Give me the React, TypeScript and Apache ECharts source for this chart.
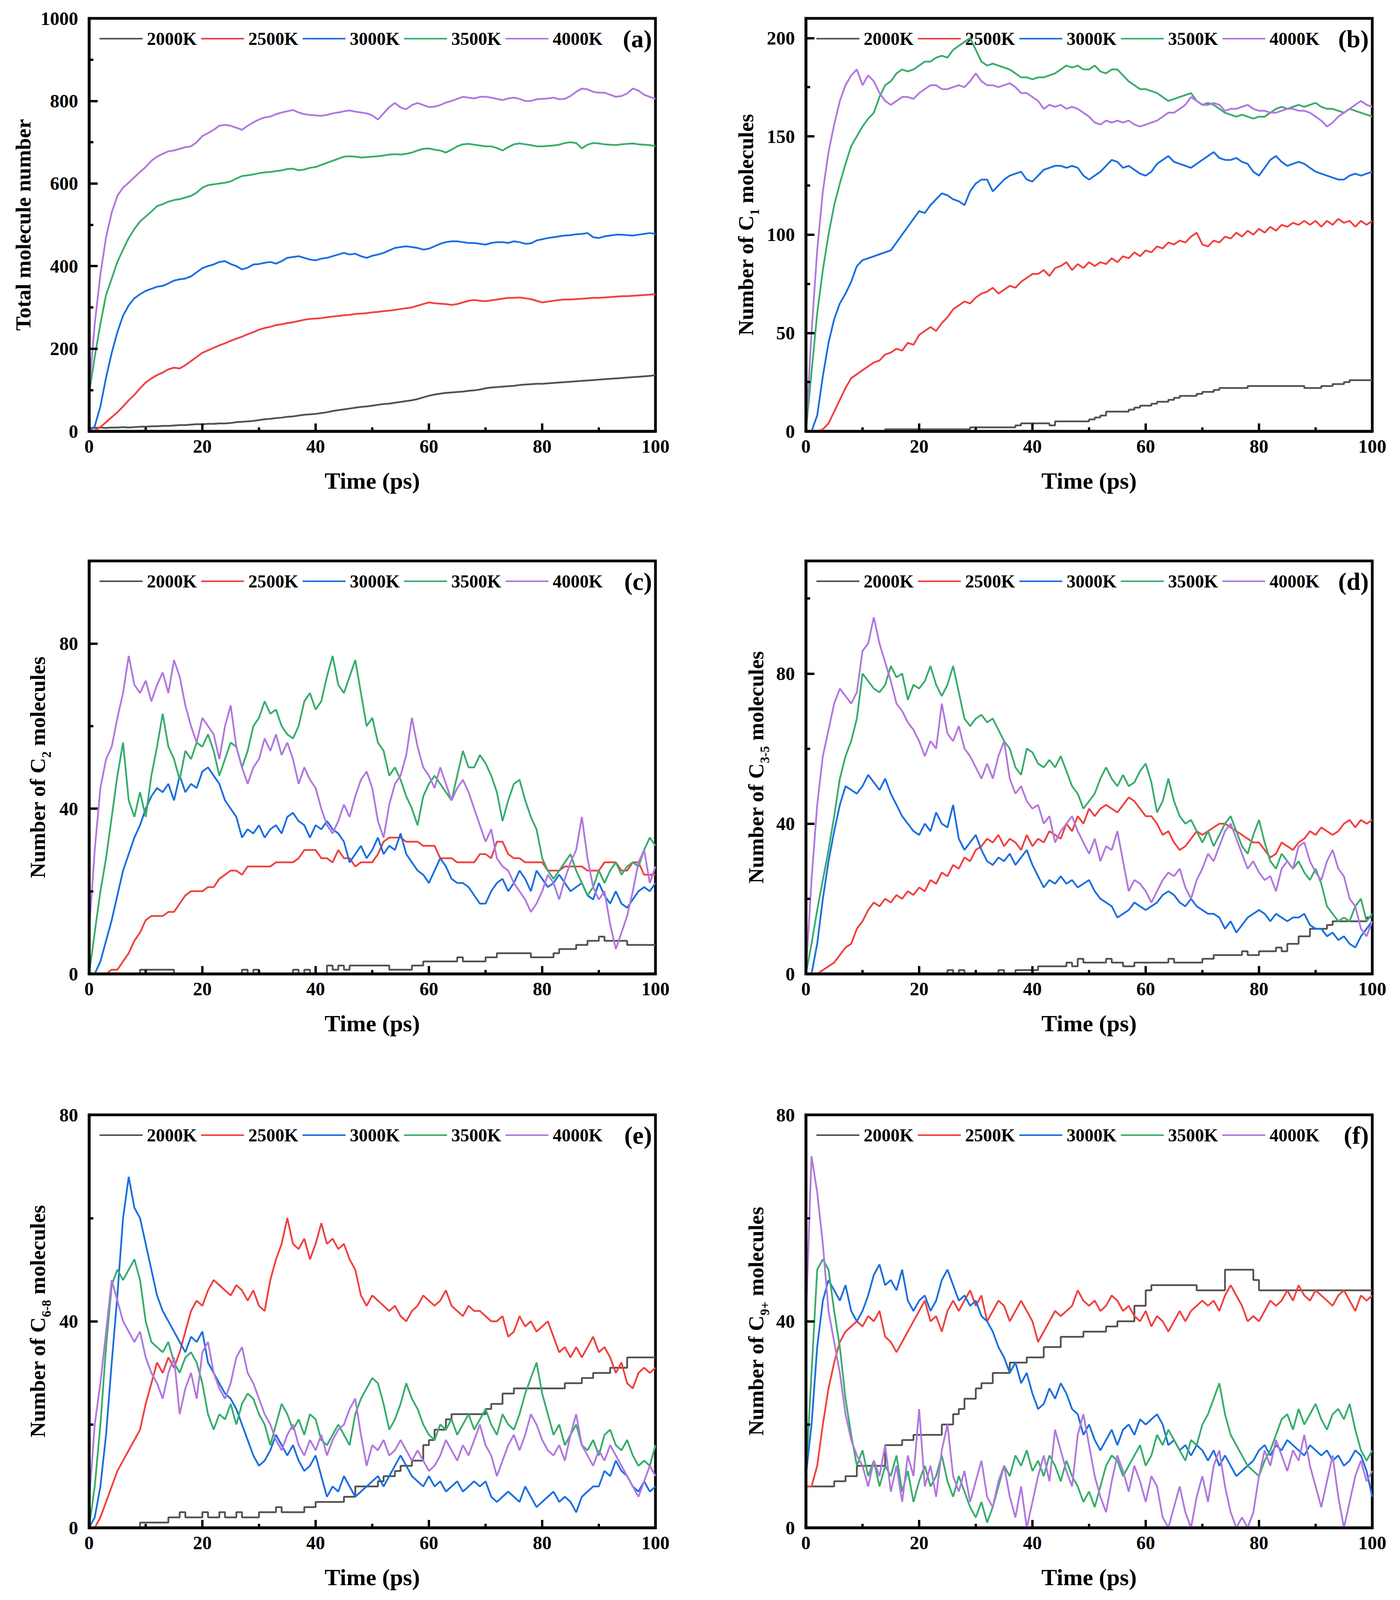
import React, { useEffect, useRef } from "react";
import * as echarts from "echarts";

// sampling grid: one point per ps
const TIME_PS = Array.from({ length: 101 }, (_, i) => i);
const TEMPS = ["2000K", "2500K", "3000K", "3500K", "4000K"];
const COLORS = ["#515151", "#F14040", "#1A6FDF", "#37AD6B", "#B177DE"];
const X_TICKS = { min: 0, max: 100, interval: 20 };

// (a) total molecule number
const A_2000 = [
  8, 8, 9, 8, 9, 9, 10, 9, 10, 11, 11,
  12, 12, 13, 13, 14, 15, 15, 16, 17, 17,
  18, 18, 19, 19, 20, 22, 23, 24, 25, 27,
  29, 30, 32, 33, 35, 36, 38, 40, 41, 42,
  44, 46, 49, 51, 53, 55, 57, 59, 60, 62,
  64, 66, 67, 69, 71, 73, 75, 78, 82, 86,
  89, 91, 93, 94, 95, 96, 98, 99, 101, 104,
  106, 107, 108, 109, 110, 112, 113, 114, 115, 115,
  116, 117, 118, 119, 120, 121, 122, 123, 124, 125,
  126, 127, 128, 129, 130, 131, 132, 133, 134, 136,
];
const A_2500 = [
  0, 2, 10, 22, 34, 46, 60, 75, 88, 104, 118,
  128, 136, 142, 150, 154, 152, 160, 170, 180, 190,
  196, 202, 208, 213, 219, 224, 229, 235, 240, 246,
  250, 253, 257, 259, 262, 264, 267, 270, 272, 273,
  274, 276, 278, 279, 281, 282, 284, 285, 286, 288,
  289, 291, 292, 294, 296, 298, 300, 304, 308, 312,
  310, 309, 308, 306, 308, 312, 316, 318, 316, 315,
  317, 319, 321, 323, 323, 324, 322, 320, 316, 312,
  314, 316, 318, 319, 319, 320, 321, 322, 323, 323,
  324, 325, 326, 327, 327, 328, 329, 330, 331, 332,
];
const A_3000 = [
  0, 12, 60, 130, 190, 240, 280, 305, 322, 332, 340,
  345, 350, 352, 358, 365, 368, 370, 375, 385, 395,
  400, 404, 410, 412, 405, 400, 392, 396, 404, 405,
  408, 410, 406, 412, 420, 422, 424, 420, 416, 414,
  418, 420, 424, 428, 432, 428, 430, 424, 420, 425,
  428, 432, 438, 444, 446, 448, 446, 444, 440, 442,
  448, 454, 458, 460, 460, 458, 456, 456, 454, 452,
  456, 458, 458, 456, 460, 458, 454, 455, 462, 465,
  468, 470, 472, 474, 475, 477, 478, 480, 470, 468,
  472, 474, 476, 476, 475, 474, 476, 478, 480, 478,
];
const A_3500 = [
  90, 180, 260, 330, 370, 410, 440, 468, 490, 508, 520,
  532, 545, 550, 556, 560, 562, 566, 570, 578, 590,
  596, 598, 600, 602, 605, 612, 618, 620, 622, 625,
  627, 628, 630, 632, 635, 636, 632, 634, 638, 640,
  645, 650, 655, 660, 665, 666, 665, 663, 664, 665,
  666, 668, 670, 671, 670, 672, 675, 680, 684, 685,
  682, 680, 675, 682, 690, 695, 696, 694, 692, 690,
  690, 686, 680, 688, 695, 697, 695, 693, 690, 690,
  691, 692, 694, 698, 700, 698, 685, 694, 698, 697,
  695, 694, 693, 695, 696, 697, 695, 694, 693, 690,
];
const A_4000 = [
  100, 260, 380, 470, 530, 570, 590, 602, 615, 628, 640,
  655, 665, 672, 678, 680, 684, 688, 690, 700, 715,
  722, 730, 740, 742, 740, 735, 730, 740, 748, 755,
  760, 762, 768, 772, 775, 778, 772, 768, 766, 765,
  764, 766, 770, 772, 775, 777, 774, 772, 770, 765,
  755, 770, 785, 795, 784, 780, 790, 795, 790, 785,
  786, 790, 796, 800, 805, 810, 808, 806, 810, 810,
  808, 805, 802, 806, 808, 805, 800, 800, 804, 805,
  806, 808, 804, 805, 812, 822, 830, 828, 822, 820,
  820, 815, 810, 812, 818, 830, 825, 815, 810, 805,
];

// (b) C1 molecules
const B_2000 = [
  0, 0, 0, 0, 0, 0, 0, 0, 0, 0, 0,
  0, 0, 0, 0, 1, 1, 1, 1, 1, 1,
  1, 1, 1, 1, 1, 1, 1, 1, 1, 2,
  2, 2, 2, 2, 2, 2, 2, 3, 4, 4,
  4, 4, 4, 3, 5, 5, 5, 5, 5, 5,
  6, 7, 8, 10, 10, 10, 10, 11, 12, 13,
  13, 14, 15, 15, 16, 17, 18, 18, 18, 19,
  20, 20, 21, 22, 22, 22, 22, 22, 23, 23,
  23, 23, 23, 23, 23, 23, 23, 23, 22, 22,
  22, 23, 23, 24, 24, 25, 26, 26, 26, 26,
];
const B_2500 = [
  0, 0, 0, 1, 4, 10, 16, 22, 27, 29, 31,
  33, 35, 36, 39, 40, 42, 41, 45, 44, 49,
  51, 53, 51, 55, 58, 62, 64, 66, 65, 68,
  70, 71, 73, 70, 72, 74, 73, 76, 78, 80,
  80, 82, 79, 83, 84, 86, 82, 85, 83, 86,
  84, 86, 85, 88, 86, 89, 88, 91, 89, 92,
  91, 94, 93, 96, 95, 97, 96, 99, 101, 95,
  94, 97, 96, 99, 98, 101, 99, 102, 100, 103,
  101, 104, 102, 105, 104, 106, 105, 107, 105, 107,
  104, 107, 105, 108, 106, 107, 104, 107, 105, 107,
];
const B_3000 = [
  0, 0, 8, 28, 45, 57, 65, 70, 76, 84, 87,
  88, 89, 90, 91, 92, 96, 100, 104, 108, 112,
  111, 115, 118, 121, 120, 118, 117, 115, 122, 126,
  128, 128, 122, 125, 128, 130, 131, 132, 128, 127,
  130, 133, 134, 135, 135, 134, 135, 134, 130, 128,
  130, 132, 135, 138, 137, 134, 135, 133, 131, 130,
  132, 136, 138, 140, 137, 136, 135, 134, 136, 138,
  140, 142, 139, 138, 138, 139, 137, 136, 132, 130,
  134, 138, 140, 137, 135, 136, 137, 136, 134, 132,
  131, 130, 129, 128, 128, 130, 131, 130, 131, 132,
];
const B_3500 = [
  0, 30, 60, 82, 100, 115, 126, 136, 145, 150, 155,
  159, 162, 170, 176, 178, 182, 184, 183, 184, 186,
  188, 188, 190, 191, 190, 194, 196, 198, 200, 194,
  188, 186, 187, 186, 185, 184, 182, 180, 180, 179,
  180, 180, 181, 182, 184, 186, 185, 186, 184, 184,
  186, 183, 182, 184, 184, 181, 178, 176, 174, 174,
  173, 172, 170, 168, 169, 170, 171, 172, 168, 166,
  167, 166, 164, 162, 161, 160, 161, 160, 159, 160,
  160, 162, 164, 165, 164, 165, 166, 165, 166, 167,
  165, 164, 164, 163, 162, 164, 163, 162, 161, 160,
];
const B_4000 = [
  0, 50, 92, 122, 142, 156, 168, 176, 181, 184, 176,
  181, 178, 172, 168, 166, 168, 170, 170, 169, 172,
  174, 176, 176, 174, 174, 175, 176, 175, 178, 182,
  178, 176, 176, 175, 176, 177, 175, 172, 172, 170,
  168, 164, 166, 165, 166, 164, 165, 164, 162, 160,
  157, 156, 158, 157, 158, 157, 158, 156, 155, 156,
  157, 158, 160, 162, 162, 164, 166, 170, 168, 166,
  166, 167, 166, 163, 164, 164, 165, 166, 164, 163,
  163, 162, 162, 163, 164, 164, 163, 163, 162, 160,
  158, 155, 157, 160, 162, 164, 166, 168, 166, 165,
];

// (c) C2 molecules
const C_2000 = [
  0, 0, 0, 0, 0, 0, 0, 0, 0, 0, 1,
  1, 1, 1, 1, 1, 0, 0, 0, 0, 0,
  0, 0, 0, 0, 0, 0, 0, 1, 0, 1,
  0, 0, 0, 0, 0, 0, 1, 0, 1, 0,
  0, 0, 2, 1, 2, 1, 2, 2, 2, 2,
  2, 2, 2, 1, 1, 1, 1, 2, 2, 3,
  3, 3, 3, 3, 3, 4, 3, 3, 3, 3,
  4, 4, 5, 5, 5, 5, 5, 5, 4, 4,
  4, 4, 5, 6, 6, 6, 7, 7, 8, 8,
  9, 8, 8, 8, 8, 7, 7, 7, 7, 7,
];
const C_2500 = [
  0, 0, 0, 0, 1, 1, 3, 5, 8, 10, 13,
  14, 14, 14, 15, 15, 17, 19, 20, 20, 20,
  21, 21, 23, 24, 25, 25, 24, 26, 26, 26,
  26, 26, 27, 27, 27, 27, 28, 30, 30, 30,
  28, 28, 27, 30, 28, 28, 26, 27, 27, 27,
  29, 32, 33, 33, 33, 32, 32, 32, 31, 31,
  31, 28, 28, 28, 27, 27, 27, 27, 29, 29,
  28, 32, 32, 29, 28, 28, 27, 27, 27, 27,
  25, 25, 25, 26, 26, 26, 26, 25, 25, 25,
  27, 27, 27, 25, 25, 27, 27, 24, 24, 24,
];
const C_3000 = [
  0, 0, 3, 8, 13, 19, 25, 29, 33, 36, 40,
  43, 45, 44, 46, 42, 48, 44, 46, 45, 49,
  50, 48, 46, 42, 40, 38, 33, 35, 34, 36,
  33, 35, 36, 34, 38, 39, 37, 36, 33, 36,
  35, 37, 35, 34, 32, 27, 29, 31, 28, 30,
  33, 29, 31, 30, 34, 29, 27, 25, 24, 22,
  25, 28, 26, 23, 22, 22, 21, 19, 17, 17,
  20, 22, 23, 20, 22, 25, 23, 20, 25, 23,
  21, 22, 24, 22, 20, 21, 22, 19, 18, 22,
  19, 17, 20, 17, 16, 18, 20, 21, 20, 22,
];
const C_3500 = [
  0, 10, 20, 28, 38, 48, 56, 42, 38, 44, 38,
  48, 55, 63, 55, 52, 47, 54, 52, 56, 55,
  58, 54, 48, 52, 56, 55, 50, 54, 60, 62,
  66, 63, 64, 60, 58, 57, 60, 66, 68, 64,
  66, 72, 77, 70, 68, 72, 76, 68, 60, 62,
  56, 54, 48, 50, 47, 43, 40, 36, 43, 46,
  48, 46, 44, 42, 48, 54, 50, 50, 53, 51,
  48, 44, 37, 42, 46, 47, 42, 38, 35, 28,
  25, 23, 25, 27, 29, 25, 22, 19, 21, 25,
  22, 25, 27, 24, 26, 27, 26, 30, 33, 31,
];
const C_4000 = [
  10, 30, 45, 52, 55, 62, 68, 77, 70, 68, 71,
  66, 70, 73, 68, 76, 72, 65, 60, 56, 62,
  60, 58, 52, 60, 65, 55, 50, 46, 50, 52,
  57, 54, 58, 53, 56, 52, 46, 50, 47, 45,
  40, 36, 34, 37, 41, 38, 43, 47, 49, 45,
  37, 33, 41, 46, 48, 53, 62, 55, 50, 48,
  45, 50, 46, 42, 45, 47, 44, 40, 36, 32,
  35, 28, 26, 25, 22, 20, 18, 15, 17, 20,
  24, 22, 18, 23, 27, 30, 38, 28, 21, 18,
  20, 12, 6, 10, 14, 20, 27, 30, 22, 26,
];

// (d) C3-5 molecules
const D_2000 = [
  0, 0, 0, 0, 0, 0, 0, 0, 0, 0, 0,
  0, 0, 0, 0, 0, 0, 0, 0, 0, 0,
  0, 0, 0, 0, 0, 1, 0, 1, 0, 0,
  0, 0, 0, 0, 1, 0, 0, 1, 1, 1,
  1, 2, 2, 2, 2, 2, 3, 2, 4, 3,
  3, 3, 3, 4, 3, 3, 2, 2, 3, 3,
  3, 3, 3, 3, 4, 3, 3, 3, 3, 3,
  4, 4, 5, 5, 5, 5, 5, 6, 5, 5,
  6, 6, 6, 7, 6, 8, 8, 10, 10, 12,
  12, 12, 13, 14, 14, 14, 14, 14, 14, 15,
];
const D_2500 = [
  0, 0, 0, 1, 2, 3, 5, 7, 8, 12, 14,
  17, 19, 18, 20, 19, 21, 20, 22, 21, 23,
  22, 25, 24, 27, 26, 29, 28, 31, 30, 33,
  34, 36, 35, 37, 34, 36, 35, 33, 37, 34,
  36, 35, 38, 37, 36, 40, 38, 42, 40, 44,
  42, 44, 45, 44, 43, 45, 47, 46, 44, 42,
  42, 40, 37, 38, 35, 33, 34, 36, 38, 37,
  38, 39, 40, 40, 39, 38, 37, 36, 35, 35,
  33, 31, 32, 35, 34, 33, 35, 36, 38, 37,
  39, 38, 37, 38, 40, 41, 39, 41, 40, 41,
];
const D_3000 = [
  0, 0, 8, 20, 30, 38, 45, 50, 49, 48, 50,
  53, 51, 49, 52, 48, 45, 42, 40, 38, 37,
  40, 38, 43, 40, 39, 45, 36, 33, 35, 37,
  33, 30, 29, 31, 30, 32, 29, 31, 33, 29,
  26, 23, 25, 24, 26, 24, 25, 23, 24, 25,
  22, 20, 19, 18, 15, 16, 17, 19, 18, 17,
  18, 19, 21, 22, 21, 19, 18, 20, 18, 17,
  16, 16, 15, 12, 14, 11, 13, 15, 16, 17,
  16, 14, 16, 15, 14, 15, 15, 16, 13, 12,
  12, 10, 11, 9, 10, 8, 7, 10, 12, 14,
];
const D_3500 = [
  0, 8, 17, 25, 33, 42, 52, 58, 62, 68, 80,
  78, 76, 75, 77, 82, 79, 80, 73, 77, 76,
  78, 82, 77, 74, 77, 82, 75, 68, 66, 68,
  69, 67, 68, 65, 62, 60, 55, 53, 60, 59,
  56, 55, 57, 55, 58, 54, 50, 48, 44, 46,
  48, 52, 55, 52, 50, 53, 50, 51, 54, 56,
  51, 43, 46, 52, 46, 42, 40, 41, 38, 35,
  38, 34, 37, 40, 42, 38, 34, 32, 37, 41,
  35, 30, 28, 32, 30, 28, 30, 27, 25, 28,
  24, 18, 16, 14, 15, 14, 18, 20, 14, 16,
];
const D_4000 = [
  0, 25, 45, 58, 65, 72, 76, 74, 72, 75, 86,
  88, 95, 88, 83, 78, 72, 70, 67, 65, 62,
  58, 62, 60, 72, 64, 62, 66, 60, 58, 55,
  52, 56, 52, 58, 62, 52, 48, 50, 46, 44,
  45, 40, 42, 35, 38, 40, 42, 38, 35, 32,
  36, 30, 34, 33, 38, 30, 22, 25, 24, 22,
  19, 22, 25, 27, 26, 28, 23, 20, 25, 28,
  32, 30, 34, 38, 40, 36, 32, 28, 30, 27,
  25, 26, 22, 28, 30, 28, 34, 35, 30, 27,
  25, 30, 33, 28, 26, 20, 18, 12, 10, 14,
];

// (e) C6-8 molecules
const E_2000 = [
  0, 0, 0, 0, 0, 0, 0, 0, 0, 0, 1,
  1, 1, 1, 1, 2, 2, 3, 2, 2, 2,
  3, 2, 2, 3, 2, 2, 3, 2, 2, 2,
  3, 3, 3, 4, 3, 3, 3, 3, 4, 4,
  5, 5, 5, 5, 5, 6, 6, 8, 8, 8,
  8, 9, 10, 10, 11, 12, 12, 13, 13, 16,
  17, 19, 19, 21, 22, 22, 22, 22, 22, 22,
  23, 24, 24, 26, 26, 27, 27, 27, 27, 27,
  27, 27, 27, 27, 28, 28, 28, 29, 29, 30,
  30, 30, 31, 31, 31, 33, 33, 33, 33, 33,
];
const E_2500 = [
  0, 0, 2, 5, 8, 11, 13, 15, 17, 19, 24,
  28, 32, 30, 33, 31, 34, 38, 42, 44, 43,
  46, 48, 47, 46, 45, 47, 46, 44, 46, 43,
  42, 48, 52, 55, 60, 55, 54, 56, 52, 55,
  59, 55, 56, 54, 55, 52, 50, 45, 43, 45,
  44, 43, 42, 43, 41, 40, 42, 43, 45, 44,
  43, 44, 46, 43, 42, 41, 43, 42, 42, 41,
  40, 40, 41, 37, 38, 41, 39, 40, 38, 39,
  40, 37, 34, 35, 33, 35, 33, 35, 37, 34,
  35, 33, 30, 32, 28, 27, 30, 31, 30, 31,
];
const E_3000 = [
  0, 2, 8, 18, 32, 45, 60, 68, 62, 60, 55,
  50, 45, 42, 40, 38, 36, 34, 37, 36, 38,
  32, 30, 28, 26, 25, 23, 20, 17, 14, 12,
  13, 15, 18, 16, 14, 16, 13, 11, 12, 14,
  10, 6, 8, 7, 10, 8, 6, 7, 8, 9,
  10, 8, 10, 12, 14, 12, 10, 9, 8, 10,
  8, 9, 7, 8, 9, 7, 8, 9, 8, 9,
  6, 5, 6, 7, 6, 5, 8, 6, 4, 5,
  6, 7, 5, 6, 5, 3, 6, 7, 8, 8,
  11, 10, 13, 11, 10, 8, 7, 9, 7, 8,
];
const E_3500 = [
  0, 8, 20, 35, 47, 50, 48, 50, 52, 48, 40,
  36, 35, 34, 36, 32, 30, 33, 34, 32, 28,
  22, 19, 22, 21, 24, 20, 24, 26, 25, 22,
  20, 16, 20, 24, 22, 19, 21, 18, 22, 21,
  17, 16, 18, 20, 18, 16, 22, 25, 27, 29,
  28, 24, 19, 21, 24, 28, 25, 23, 20, 18,
  17, 20, 19, 21, 18, 20, 22, 19, 21, 23,
  20, 18, 22, 20, 19, 22, 26, 29, 32, 26,
  22, 18, 20, 16, 18, 20, 16, 15, 17, 14,
  18, 19, 16, 15, 17, 14, 12, 13, 12, 16,
];
const E_4000 = [
  5, 20, 28, 38, 48, 44, 40, 38, 36, 38, 33,
  30, 28, 25, 30, 33, 22, 27, 30, 25, 34,
  36, 30, 27, 25, 28, 33, 35, 30, 28, 25,
  22, 20, 17, 15, 18, 20, 16, 14, 17, 15,
  18, 14, 17, 19, 20, 23, 25, 18, 12, 16,
  15, 17, 14, 15, 17, 15, 13, 15, 13, 11,
  12, 14, 17, 15, 13, 16, 14, 17, 20, 16,
  14, 10, 13, 16, 18, 15, 18, 22, 20, 17,
  15, 14, 16, 13, 18, 22, 16, 14, 12, 15,
  13, 16, 14, 12, 10, 8, 6, 9, 12, 10,
];

// (f) C9+ molecules
const F_2000 = [
  8, 8, 8, 8, 8, 8, 9, 9, 10, 10, 12,
  12, 12, 12, 12, 16, 16, 16, 17, 17, 18,
  18, 18, 18, 18, 20, 20, 22, 23, 25, 25,
  27, 28, 28, 30, 30, 30, 32, 32, 32, 33,
  33, 33, 35, 35, 35, 37, 37, 37, 37, 38,
  38, 38, 38, 39, 39, 40, 40, 40, 43, 43,
  46, 47, 47, 47, 47, 47, 47, 47, 47, 46,
  46, 46, 46, 46, 50, 50, 50, 50, 50, 48,
  46, 46, 46, 46, 46, 46, 46, 46, 46, 46,
  46, 46, 46, 46, 46, 46, 46, 46, 46, 46,
];
const F_2500 = [
  8, 8, 12, 20, 27, 32, 36, 38, 39, 40, 39,
  41, 40, 42, 37, 36, 34, 36, 38, 40, 42,
  44, 40, 41, 38, 42, 44, 42, 44, 46, 43,
  45, 40, 42, 44, 43, 40, 42, 44, 42, 40,
  36, 38, 40, 42, 41, 42, 43, 46, 44, 43,
  44, 42, 43, 45, 44, 42, 43, 41, 40, 42,
  39, 41, 40, 38, 40, 42, 40, 42, 43, 44,
  43, 44, 42, 45, 47, 45, 43, 40, 41, 40,
  42, 44, 43, 44, 46, 44, 47, 45, 44, 46,
  45, 44, 43, 45, 46, 44, 42, 45, 44, 45,
];
const F_3000 = [
  10, 20, 35, 44, 48, 46, 44, 47, 42, 40, 42,
  45, 49, 51, 47, 48, 46, 50, 44, 42, 44,
  45, 42, 44, 48, 50, 47, 44, 45, 43, 44,
  41, 40, 38, 35, 33, 30, 32, 28, 30, 26,
  23, 24, 27, 25, 28, 26, 23, 22, 18, 20,
  17, 15, 17, 19, 16, 19, 20, 18, 21, 20,
  21, 22, 20, 16, 17, 15, 16, 14, 16, 15,
  13, 15, 12, 14, 12, 10, 11, 12, 13, 15,
  16, 14, 16, 15, 17, 16, 15, 14, 16, 15,
  14, 15, 13, 14, 12, 13, 15, 14, 11, 6,
];
const F_3500 = [
  10, 30, 50, 52, 50, 42, 35, 25, 18, 12, 15,
  10, 13, 8, 12, 10, 14, 7, 11, 5, 9,
  12, 8, 10, 14, 9, 6, 10, 7, 4, 2,
  5, 1, 4, 8, 12, 10, 14, 12, 15, 11,
  13, 10, 14, 12, 9, 13, 10, 8, 5, 7,
  4, 8, 12, 14, 13, 10, 12, 14, 16, 12,
  14, 18, 16, 19, 17, 15, 13, 17, 16, 20,
  22, 25, 28, 22, 18, 16, 14, 12, 11, 10,
  13, 15, 18, 21, 22, 19, 23, 20, 22, 24,
  21, 19, 22, 23, 21, 24, 19, 15, 13, 15,
];
const F_4000 = [
  40, 72, 65, 55, 42, 36, 30, 22, 17, 14, 12,
  8, 13, 10, 16, 7, 12, 5, 14, 10, 23,
  8, 12, 6, 15, 20, 10, 7, 11, 5, 9,
  13, 6, 4, 9, 12, 6, 2, 8, 0, 5,
  10, 14, 9, 19, 15, 11, 8, 18, 22, 16,
  10, 6, 3, 9, 14, 11, 7, 12, 9, 5,
  10, 8, 2, 0, 4, 8, 3, 0, 6, 10,
  5, 12, 15, 8, 3, 0, 2, 0, 3, 10,
  15, 12, 17, 14, 11, 15, 13, 18, 12, 8,
  4, 9, 14, 6, 0, 5, 10, 13, 9, 11,
];

const PANEL_DATA = [
  [A_2000, A_2500, A_3000, A_3500, A_4000],
  [B_2000, B_2500, B_3000, B_3500, B_4000],
  [C_2000, C_2500, C_3000, C_3500, C_4000],
  [D_2000, D_2500, D_3000, D_3500, D_4000],
  [E_2000, E_2500, E_3000, E_3500, E_4000],
  [F_2000, F_2500, F_3000, F_3500, F_4000],
];
const PANEL_TAGS = ["(a)", "(b)", "(c)", "(d)", "(e)", "(f)"];
const Y_NAMES = [
  "{t|Total molecule number}",
  "{t|Number of C}{s|1}{t| molecules}",
  "{t|Number of C}{s|2}{t| molecules}",
  "{t|Number of C}{s|3-5}{t| molecules}",
  "{t|Number of C}{s|6-8}{t| molecules}",
  "{t|Number of C}{s|9+}{t| molecules}",
];
// y scale per panel: [min, max, interval]
const Y_SCALES = [
  [0, 1000, 200],
  [0, 210, 50],
  [0, 100, 40],
  [0, 110, 40],
  [0, 80, 40],
  [0, 80, 40],
];

// layout in page pixels; the browser viewport is only 4096 tall,
// so the vertical layout is squeezed to fit it
const PAGE_W = 3584;
const PAGE_H = 4096;
const SY = PAGE_H / 4506;
const PLOT_W = 1450;
const PLOT_H = Math.round(1163 * SY);
const COL_LEFT = [228, 2063];
const ROW_TOP = [52, 1580, 3140].map((v) => Math.round(v * SY));
const Y_NAME_GAP = [130, 115, 93, 89, 93, 89];

const FONT = "'Liberation Serif', 'Times New Roman', serif";

function buildOption(): echarts.EChartsOption {
  const grid: any[] = [];
  const xAxis: any[] = [];
  const yAxis: any[] = [];
  const series: any[] = [];
  const legend: any[] = [];
  const graphic: any[] = [];

  const tickStyle = { color: "#000", width: 6 };
  const labelStyle = {
    fontFamily: FONT,
    fontWeight: "bold",
    fontSize: 48,
    color: "#000",
    formatter: (v: number) => String(v),
  };

  PANEL_DATA.forEach((lines, i) => {
    const left = COL_LEFT[i % 2];
    const top = ROW_TOP[Math.floor(i / 2)];
    const [ymin, ymax, yint] = Y_SCALES[i];

    grid.push({
      left,
      top,
      width: PLOT_W,
      height: PLOT_H,
      show: true,
      borderColor: "#000",
      borderWidth: 7,
      backgroundColor: "transparent",
    });

    xAxis.push({
      gridIndex: i,
      type: "value",
      ...X_TICKS,
      z: 10,
      name: "Time (ps)",
      nameLocation: "middle",
      nameGap: 92,
      nameTextStyle: { fontFamily: FONT, fontWeight: "bold", fontSize: 60, color: "#000", lineHeight: 70 },
      axisLine: { show: true, onZero: false, lineStyle: { color: "#000", width: 7 } },
      axisTick: { show: true, inside: true, length: 20, lineStyle: tickStyle },
      minorTick: { show: true, splitNumber: 2, length: 10, lineStyle: tickStyle },
      splitLine: { show: false },
      axisLabel: { ...labelStyle, margin: 14 },
    });

    yAxis.push({
      gridIndex: i,
      type: "value",
      min: ymin,
      max: ymax,
      interval: yint,
      z: 10,
      name: Y_NAMES[i],
      nameLocation: "middle",
      nameRotate: 90,
      nameGap: Y_NAME_GAP[i],
      nameTextStyle: {
        fontFamily: FONT,
        fontWeight: "bold",
        fontSize: 55,
        color: "#000",
        lineHeight: 77,
        rich: {
          t: { fontFamily: FONT, fontWeight: "bold", fontSize: 55, color: "#000", lineHeight: 77 },
          s: {
            fontFamily: FONT,
            fontWeight: "bold",
            fontSize: 33,
            color: "#000",
            lineHeight: 33,
            verticalAlign: "bottom",
          },
        },
      },
      axisLine: { show: true, onZero: false, lineStyle: { color: "#000", width: 7 } },
      axisTick: { show: true, inside: true, length: 22, lineStyle: tickStyle },
      minorTick: { show: true, splitNumber: 2, length: 11, lineStyle: tickStyle },
      splitLine: { show: false },
      axisLabel: { ...labelStyle, margin: 28, showMaxLabel: ymax % yint === 0 },
    });

    lines.forEach((vals, k) => {
      series.push({
        type: "line",
        name: TEMPS[k],
        xAxisIndex: i,
        yAxisIndex: i,
        data: vals.map((v, j) => [TIME_PS[j], v]),
        symbol: "none",
        showSymbol: false,
        step: k === 0 && i > 0 ? "start" : false,
        clip: true,
        lineStyle: { width: 4.5, color: COLORS[k] },
        itemStyle: { color: COLORS[k] },
        z: 2 + k,
      });
    });

    legend.push({
      data: TEMPS.map((name, k) => ({ name, icon: "rect", itemStyle: { color: COLORS[k] } })),
      left: left + 27,
      top: top + 29,
      padding: 0,
      orient: "horizontal",
      itemWidth: 110,
      itemHeight: 4,
      itemGap: 11,
      selectedMode: false,
      textStyle: {
        fontFamily: FONT,
        fontWeight: "bold",
        fontSize: 46,
        color: "#000",
        padding: [0, 0, 0, 6],
      },
    });

    graphic.push({
      type: "text",
      x: left + PLOT_W - 9,
      y: top + 52,
      z: 20,
      style: {
        text: PANEL_TAGS[i],
        fontFamily: FONT,
        fontWeight: "bold",
        fontSize: 64,
        fill: "#000",
        align: "right",
        verticalAlign: "middle",
      },
    });
  });

  return {
    animation: false,
    backgroundColor: "#fff",
    color: COLORS,
    grid,
    xAxis,
    yAxis,
    series,
    legend,
    graphic,
  };
}

export default function App() {
  const chartRef = useRef<HTMLDivElement>(null);

  useEffect(() => {
    document.body.style.margin = "0";
    if (!chartRef.current) return;
    const chart = echarts.init(chartRef.current, undefined, { renderer: "svg" });
    chart.setOption(buildOption());
    return () => {
      chart.dispose();
    };
  }, []);

  return <div ref={chartRef} style={{ width: PAGE_W, height: PAGE_H, background: "#fff" }} />;
}
